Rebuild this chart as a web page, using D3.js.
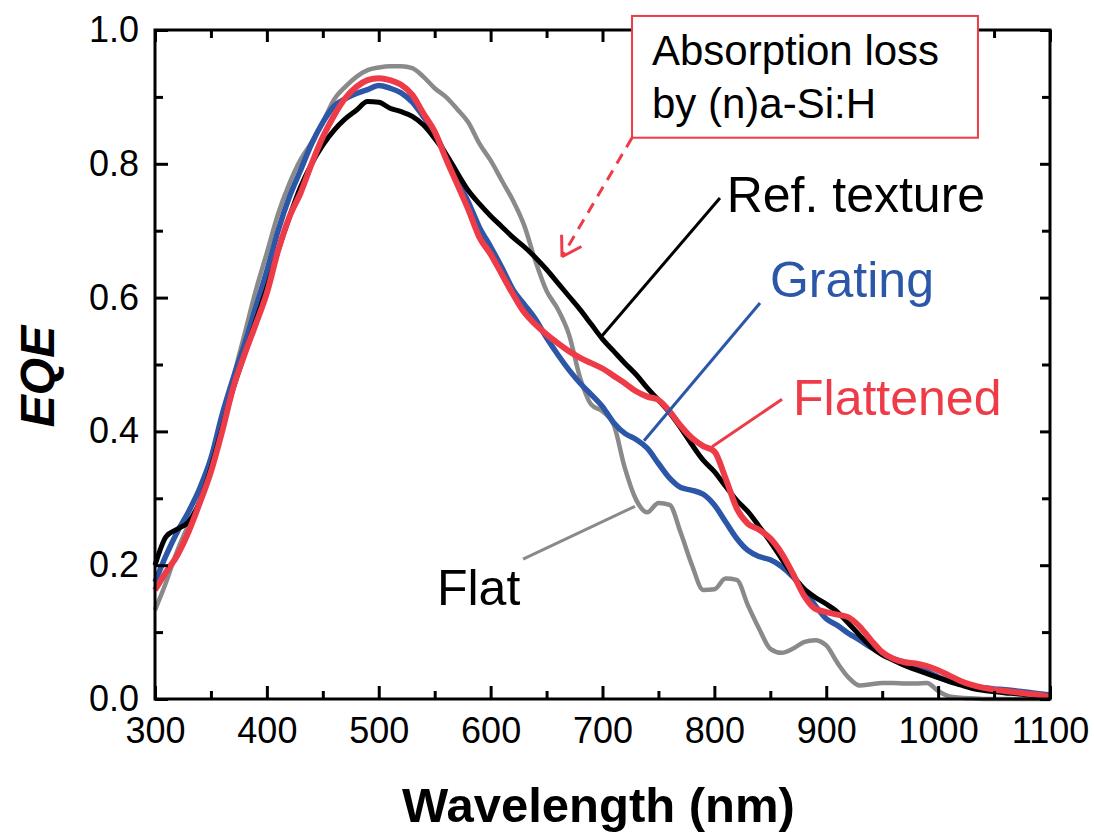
<!DOCTYPE html>
<html>
<head>
<meta charset="utf-8">
<script src="https://cdn.jsdelivr.net/npm/d3@7"></script>
<style>
  body { margin: 0; background: #fff; }
  text { font-family: Arial, 'Liberation Sans', sans-serif; }
</style>
</head>
<body>
<div id="chart"></div>
<script>
// Wavelength grid (nm), shared by all four curves
const wavelength = d3.range(300, 1101, 10);

const refTexture = [
  0.200, 0.243, 0.254, 0.265, 0.295, 0.345, 0.405, 0.465, 0.515, 0.565,
  0.615, 0.670, 0.720, 0.765, 0.800, 0.828, 0.850, 0.867, 0.880, 0.893,
  0.892, 0.883, 0.878, 0.871, 0.858, 0.838, 0.815, 0.787, 0.760, 0.740,
  0.722, 0.706, 0.690, 0.676, 0.660, 0.642, 0.622, 0.602, 0.582, 0.560,
  0.538, 0.520, 0.502, 0.485, 0.465, 0.447, 0.428, 0.405, 0.380, 0.357,
  0.340, 0.318, 0.297, 0.280, 0.258, 0.235, 0.210, 0.185, 0.165, 0.152,
  0.142, 0.130, 0.113, 0.095, 0.078, 0.066, 0.058, 0.050, 0.044, 0.038,
  0.032, 0.026, 0.021, 0.016, 0.013, 0.011, 0.009, 0.008, 0.006, 0.005,
  0.004
];

const grating = [
  0.175, 0.215, 0.250, 0.280, 0.315, 0.360, 0.425, 0.480, 0.530, 0.585,
  0.640, 0.700, 0.750, 0.790, 0.830, 0.862, 0.886, 0.897, 0.905, 0.911,
  0.917, 0.913, 0.906, 0.892, 0.870, 0.846, 0.812, 0.775, 0.743, 0.705,
  0.676, 0.645, 0.612, 0.590, 0.568, 0.540, 0.515, 0.492, 0.472, 0.455,
  0.437, 0.413, 0.397, 0.388, 0.375, 0.352, 0.330, 0.316, 0.312, 0.306,
  0.290, 0.265, 0.240, 0.222, 0.213, 0.208, 0.198, 0.183, 0.163, 0.140,
  0.120, 0.110, 0.098, 0.088, 0.077, 0.068, 0.060, 0.055, 0.050, 0.041,
  0.033, 0.027, 0.023, 0.019, 0.017, 0.015, 0.014, 0.012, 0.010, 0.008,
  0.006
];

const flattened = [
  0.163, 0.190, 0.215, 0.250, 0.293, 0.340, 0.400, 0.466, 0.515, 0.560,
  0.607, 0.670, 0.720, 0.756, 0.800, 0.840, 0.872, 0.898, 0.915, 0.925,
  0.928, 0.925, 0.918, 0.903, 0.875, 0.848, 0.808, 0.770, 0.732, 0.690,
  0.665, 0.635, 0.605, 0.578, 0.560, 0.545, 0.532, 0.520, 0.510, 0.502,
  0.494, 0.483, 0.472, 0.460, 0.452, 0.447, 0.430, 0.408, 0.390, 0.378,
  0.370, 0.330, 0.285, 0.262, 0.253, 0.240, 0.218, 0.188, 0.155, 0.135,
  0.130, 0.126, 0.122, 0.108, 0.088, 0.070, 0.060, 0.055, 0.053, 0.049,
  0.043, 0.035, 0.027, 0.021, 0.017, 0.014, 0.012, 0.010, 0.008, 0.006,
  0.003
];

const flat = [
  0.133, 0.175, 0.222, 0.260, 0.293, 0.340, 0.405, 0.480, 0.545, 0.610,
  0.667, 0.725, 0.770, 0.806, 0.832, 0.862, 0.896, 0.915, 0.930, 0.940,
  0.944, 0.946, 0.946, 0.943, 0.930, 0.913, 0.900, 0.882, 0.862, 0.830,
  0.805, 0.775, 0.745, 0.708, 0.655, 0.610, 0.583, 0.545, 0.480, 0.440,
  0.430, 0.410, 0.345, 0.298, 0.279, 0.293, 0.290, 0.248, 0.200, 0.163,
  0.164, 0.180, 0.178, 0.140, 0.105, 0.075, 0.069, 0.075, 0.085, 0.088,
  0.080, 0.054, 0.032, 0.020, 0.022, 0.024, 0.024, 0.023, 0.023, 0.024,
  0.012, 0.004, 0.002, 0.001, 0, 0, 0, 0, 0, 0,
  0
];

const xTicks = d3.range(300, 1101, 100);
const xMinorTicks = d3.range(350, 1100, 100);
const yTicks = [0, 0.2, 0.4, 0.6, 0.8, 1.0];
const yMinorTicks = [0.1, 0.3, 0.5, 0.7, 0.9];

const series = [
  { name: 'Flat', values: flat, color: '#8a8a8a', width: 4.5 },
  { name: 'Grating', values: grating, color: '#2c57a8', width: 5.5 },
  { name: 'Ref. texture', values: refTexture, color: '#000000', width: 5 },
  { name: 'Flattened', values: flattened, color: '#ee3b48', width: 6 },
];

const W = 1094;
const H = 835;
const margin = { top: 30, right: 44, bottom: 136, left: 155 };
const plotW = W - margin.left - margin.right;
const plotH = H - margin.top - margin.bottom;

const svg = d3.select('#chart')
  .append('svg')
  .attr('width', W)
  .attr('height', H);

const g = svg.append('g')
  .attr('transform', `translate(${margin.left}, ${margin.top})`);

const x = d3.scaleLinear().domain([300, 1100]).range([0, plotW]);
const y = d3.scaleLinear().domain([0, 1]).range([plotH, 0]);

// Curves
const line = d3.line()
  .x(d => x(d[0]))
  .y(d => y(d[1]))
  .curve(d3.curveMonotoneX);

g.selectAll('.curve')
  .data(series)
  .enter()
  .append('path')
  .attr('class', 'curve')
  .attr('d', s => line(wavelength.map((w, i) => [w, s.values[i]])))
  .style('fill', 'none')
  .style('stroke', s => s.color)
  .style('stroke-width', s => s.width)
  .style('stroke-linejoin', 'round');

// Axes: inward ticks on all four sides
const tickFont = '36px';

function styleAxis(sel) {
  sel.select('.domain').remove();
  sel.selectAll('line').style('stroke', '#000').style('stroke-width', 3);
  sel.selectAll('text')
    .style('font-size', tickFont)
    .style('font-family', "Arial, 'Liberation Sans', sans-serif")
    .style('fill', '#000');
}

g.append('g')
  .attr('transform', `translate(0, ${plotH})`)
  .call(d3.axisBottom(x).tickValues(xTicks).tickSize(-13).tickPadding(18).tickFormat(d3.format('d')))
  .call(styleAxis);
g.append('g')
  .attr('transform', `translate(0, ${plotH})`)
  .call(d3.axisBottom(x).tickValues(xMinorTicks).tickSize(-8).tickFormat(''))
  .call(styleAxis);
g.append('g')
  .call(d3.axisTop(x).tickValues(xTicks).tickSize(-12).tickFormat(''))
  .call(styleAxis);
g.append('g')
  .call(d3.axisTop(x).tickValues(xMinorTicks).tickSize(-8).tickFormat(''))
  .call(styleAxis);

g.append('g')
  .call(d3.axisLeft(y).tickValues(yTicks).tickSize(-13).tickPadding(16).tickFormat(d3.format('.1f')))
  .call(styleAxis);
g.append('g')
  .call(d3.axisLeft(y).tickValues(yMinorTicks).tickSize(-8).tickFormat(''))
  .call(styleAxis);
g.append('g')
  .attr('transform', `translate(${plotW}, 0)`)
  .call(d3.axisRight(y).tickValues(yTicks).tickSize(-10).tickFormat(''))
  .call(styleAxis);
g.append('g')
  .attr('transform', `translate(${plotW}, 0)`)
  .call(d3.axisRight(y).tickValues(yMinorTicks).tickSize(-8).tickFormat(''))
  .call(styleAxis);

// Frame
g.append('rect')
  .attr('x', 0)
  .attr('y', 0)
  .attr('width', plotW)
  .attr('height', plotH)
  .style('fill', 'none')
  .style('stroke', '#000')
  .style('stroke-width', 3);

// Axis titles
svg.append('text')
  .attr('x', margin.left + plotW / 2 - 4)
  .attr('y', 822)
  .attr('text-anchor', 'middle')
  .style('font-size', '49px')
  .style('font-weight', 'bold')
  .text('Wavelength (nm)');

svg.append('text')
  .attr('transform', `translate(54, ${margin.top + plotH / 2 + 12}) rotate(-90)`)
  .attr('text-anchor', 'middle')
  .style('font-size', '48px')
  .style('font-weight', 'bold')
  .style('font-style', 'italic')
  .text('EQE');

// Curve labels with leader lines (positions in data units)
const labels = [
  { text: 'Ref. texture', color: '#000000', at: [811, 0.728], from: [805, 0.749], to: [698.7, 0.541] },
  { text: 'Grating', color: '#2c57a8', at: [849.7, 0.601], from: [840.8, 0.592], to: [737.1, 0.386] },
  { text: 'Flattened', color: '#ee3b48', at: [870.3, 0.4245], from: [860.5, 0.448], to: [797.9, 0.377] },
  { text: 'Flat', color: '#000000', lineColor: '#8a8a8a', at: [552, 0.1405], from: [629, 0.209], to: [729, 0.288] },
];

labels.forEach((l) => {
  g.append('line')
    .attr('x1', x(l.from[0]))
    .attr('y1', y(l.from[1]))
    .attr('x2', x(l.to[0]))
    .attr('y2', y(l.to[1]))
    .style('stroke', l.lineColor || l.color)
    .style('stroke-width', 3);
  g.append('text')
    .attr('x', x(l.at[0]))
    .attr('y', y(l.at[1]))
    .style('font-size', '50px')
    .style('fill', l.color)
    .text(l.text);
});

// Absorption-loss callout box and dashed arrow
const boxX0 = x(726.4);
const boxX1 = x(1035.6);
const boxY0 = y(1.021);
const boxY1 = y(0.839);

const tail = [x(726.4), y(0.839)];
const tip = [x(663.8), y(0.661)];

g.append('line')
  .attr('x1', tail[0])
  .attr('y1', tail[1])
  .attr('x2', tip[0])
  .attr('y2', tip[1])
  .style('stroke', '#ee3b48')
  .style('stroke-width', 3)
  .style('stroke-dasharray', '11,8');

const ang = Math.atan2(tail[1] - tip[1], tail[0] - tip[0]);
[-0.55, 0.55].forEach((da) => {
  g.append('line')
    .attr('x1', tip[0])
    .attr('y1', tip[1])
    .attr('x2', tip[0] + 22 * Math.cos(ang + da))
    .attr('y2', tip[1] + 22 * Math.sin(ang + da))
    .style('stroke', '#ee3b48')
    .style('stroke-width', 3);
});

g.append('rect')
  .attr('x', boxX0)
  .attr('y', boxY0)
  .attr('width', boxX1 - boxX0)
  .attr('height', boxY1 - boxY0)
  .style('fill', '#fff')
  .style('stroke', '#ee3b48')
  .style('stroke-width', 2);

g.append('text')
  .attr('x', x(744.2))
  .attr('y', y(0.948))
  .style('font-size', '42px')
  .text('Absorption loss');
g.append('text')
  .attr('x', x(744.2))
  .attr('y', y(0.868))
  .style('font-size', '42px')
  .text('by (n)a-Si:H');
</script>
</body>
</html>
